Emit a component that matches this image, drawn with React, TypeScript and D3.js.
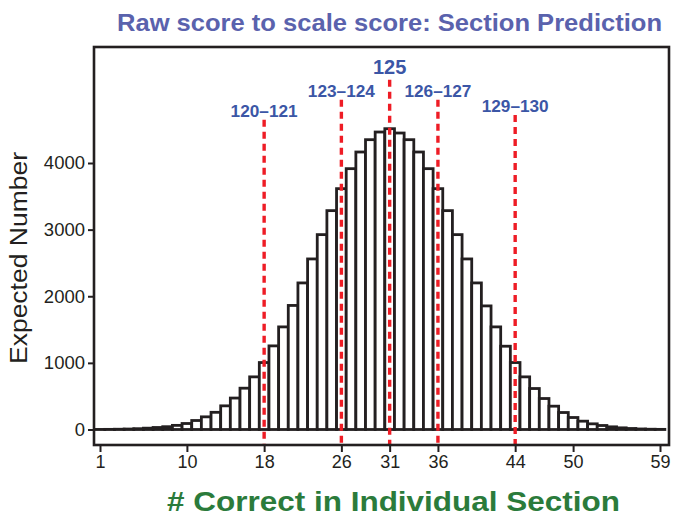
import React, { useEffect, useRef } from 'react';
import * as d3 from 'd3';

// # correct in section (x) and expected number of test takers (bar height)
const rawScores = d3.range(1, 60);
const expectedCounts = [
  1, 2, 4, 7, 12, 20, 30, 42, 62, 90,
  135, 190, 258, 355, 472, 620, 790, 1005, 1255, 1540,
  1862, 2200, 2560, 2925, 3285, 3615, 3915, 4165, 4350, 4465,
  4515, 4450, 4350, 4165, 3915, 3615, 3285, 2925, 2560, 2200,
  1855, 1540, 1250, 1005, 790, 615, 465, 350, 255, 180,
  125, 85, 60, 40, 25, 15, 8, 4, 2,
];

// cut points mapping raw score to scale score
const cutScores = [18, 26, 31, 36, 44];
const cutLabels = ['120–121', '123–124', '125', '126–127', '129–130'];
const cutTops = [4650, 4950, 5250, 4950, 4720];

const xTicks = [1, 10, 18, 26, 31, 36, 44, 50, 59];
const yTicks = [0, 1000, 2000, 3000, 4000];

const W = 673;
const H = 518;
const FONT = '"Liberation Sans", Arial, Helvetica, sans-serif';

const App = () => {
  const svgRef = useRef<SVGSVGElement | null>(null);

  useEffect(() => {
    if (!svgRef.current) return;
    const svg = d3.select(svgRef.current);
    svg.selectAll('*').remove();

    const box = { left: 94, right: 669, top: 47, bottom: 445 };

    const x = d3.scaleLinear().domain([1, 59]).range([100, 660]);
    const y = d3.scaleLinear().domain([0, 4000]).range([429.5, 163]);
    const bw = x(2) - x(1);

    // bars
    svg.append('g')
      .selectAll('rect')
      .data(rawScores)
      .enter()
      .append('rect')
      .attr('x', d => x(d) - bw / 2)
      .attr('y', (d, i) => y(expectedCounts[i]))
      .attr('width', bw)
      .attr('height', (d, i) => y(0) - y(expectedCounts[i]))
      .attr('fill', '#fff')
      .attr('stroke', '#231f20')
      .attr('stroke-width', 2.8);

    // red dashed cut lines
    svg.append('g')
      .selectAll('line')
      .data(cutScores)
      .enter()
      .append('line')
      .attr('x1', d => x(d))
      .attr('x2', d => x(d))
      .attr('y1', (d, i) => y(cutTops[i]))
      .attr('y2', box.bottom)
      .attr('stroke', '#ee1c25')
      .attr('stroke-width', 3.4)
      .attr('stroke-dasharray', '7,5');

    svg.append('g')
      .selectAll('text')
      .data(cutScores)
      .enter()
      .append('text')
      .attr('x', d => x(d))
      .attr('y', (d, i) => y(cutTops[i]) - (cutLabels[i] === '125' ? 6 : 3))
      .attr('text-anchor', 'middle')
      .attr('font-family', FONT)
      .attr('font-weight', 'bold')
      .attr('font-size', (d, i) => (cutLabels[i] === '125' ? 20 : 16))
      .attr('fill', '#3b56a6')
      .each(function (d, i) {
        if (cutLabels[i] !== '125') {
          d3.select(this).attr('textLength', 67).attr('lengthAdjust', 'spacingAndGlyphs');
        }
      })
      .text((d, i) => cutLabels[i]);

    // plot box
    svg.append('rect')
      .attr('x', box.left)
      .attr('y', box.top)
      .attr('width', box.right - box.left)
      .attr('height', box.bottom - box.top)
      .attr('fill', 'none')
      .attr('stroke', '#231f20')
      .attr('stroke-width', 2.6);

    // x axis
    const xAxis = svg.append('g')
      .attr('transform', `translate(0,${box.bottom})`)
      .call(d3.axisBottom(x).tickValues(xTicks).tickSize(7).tickSizeOuter(0).tickFormat(d3.format('d')));
    xAxis.select('.domain').remove();
    xAxis.selectAll('line').attr('stroke', '#231f20').attr('stroke-width', 2);
    xAxis.selectAll('text')
      .attr('font-family', FONT)
      .attr('font-size', 18)
      .attr('fill', '#231f20')
      .attr('y', 8)
      .attr('dy', '0.85em');

    // y axis
    const yAxis = svg.append('g')
      .attr('transform', `translate(${box.left},0)`)
      .call(d3.axisLeft(y).tickValues(yTicks).tickSize(6).tickSizeOuter(0).tickFormat(d3.format('d')));
    yAxis.select('.domain').remove();
    yAxis.selectAll('line').attr('stroke', '#231f20').attr('stroke-width', 2);
    yAxis.selectAll('text')
      .attr('font-family', FONT)
      .attr('font-size', 18.5)
      .attr('fill', '#231f20')
      .attr('x', -9);

    // titles
    svg.append('text')
      .attr('x', 389.5)
      .attr('y', 31)
      .attr('text-anchor', 'middle')
      .attr('font-family', FONT)
      .attr('font-weight', 'bold')
      .attr('font-size', 24)
      .attr('fill', '#5a62ad')
      .attr('textLength', 545)
      .attr('lengthAdjust', 'spacingAndGlyphs')
      .text('Raw score to scale score: Section Prediction');

    svg.append('text')
      .attr('x', 393.5)
      .attr('y', 511)
      .attr('text-anchor', 'middle')
      .attr('font-family', FONT)
      .attr('font-weight', 'bold')
      .attr('font-size', 28)
      .attr('fill', '#2b7b3b')
      .attr('textLength', 453)
      .attr('lengthAdjust', 'spacingAndGlyphs')
      .text('# Correct in Individual Section');

    svg.append('text')
      .attr('transform', `translate(27,258) rotate(-90)`)
      .attr('text-anchor', 'middle')
      .attr('font-family', FONT)
      .attr('font-size', 23)
      .attr('fill', '#231f20')
      .attr('textLength', 212)
      .attr('lengthAdjust', 'spacingAndGlyphs')
      .text('Expected Number');
  }, []);

  return (
    <svg
      ref={svgRef}
      width={W}
      height={H}
      style={{ position: 'absolute', left: 0, top: 0, background: '#fff' }}
    />
  );
};

export default App;
